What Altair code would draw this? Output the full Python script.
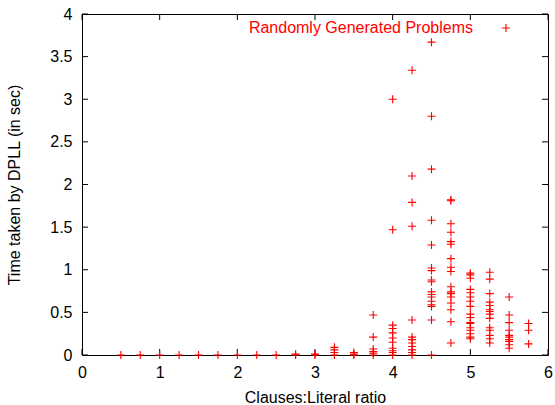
import altair as alt
import pandas as pd

# ---- data ----
ratios = [0.5, 0.75, 1.0, 1.25, 1.5, 1.75, 2.0, 2.25, 2.5, 2.75, 3.0,
          3.25, 3.5, 3.75, 4.0, 4.25, 4.5, 4.75, 5.0, 5.25, 5.5, 5.75]

times = [
    [0.0],                                   # 0.5
    [0.0],                                   # 0.75
    [0.0],                                   # 1.0
    [0.0],                                   # 1.25
    [0.0],                                   # 1.5
    [0.0],                                   # 1.75
    [0.0],                                   # 2.0
    [0.0],                                   # 2.25
    [0.0],                                   # 2.5
    [0.0, 0.01],                             # 2.75
    [0.0, 0.01],                             # 3.0
    [0.0, 0.03, 0.06, 0.09],                 # 3.25
    [0.0, 0.01, 0.03],                       # 3.5
    [0.0, 0.02, 0.04, 0.07, 0.21, 0.47],     # 3.75
    [0.0, 0.03, 0.05, 0.08, 0.15, 0.20, 0.26, 0.31, 0.35, 1.47, 3.0],   # 4.0
    [0.0, 0.03, 0.06, 0.10, 0.14, 0.18, 0.21, 0.41, 1.51, 1.79, 2.10, 3.34],  # 4.25
    [0.0, 0.41, 0.57, 0.59, 0.63, 0.68, 0.71, 0.74, 0.86, 0.88, 0.99, 1.02,
     1.29, 1.58, 2.18, 2.80, 3.67],          # 4.5
    [0.14, 0.39, 0.53, 0.61, 0.68, 0.72, 0.74, 0.80, 0.98, 1.03, 1.13, 1.30,
     1.33, 1.44, 1.54, 1.81, 1.82],          # 4.75
    [0.19, 0.21, 0.25, 0.29, 0.32, 0.37, 0.38, 0.44, 0.48, 0.57, 0.63, 0.68,
     0.73, 0.77, 0.90, 0.94, 0.96],          # 5.0
    [0.14, 0.19, 0.23, 0.29, 0.32, 0.43, 0.48, 0.51, 0.53, 0.58, 0.62, 0.72,
     0.89, 0.97],                            # 5.25
    [0.08, 0.12, 0.16, 0.18, 0.21, 0.23, 0.29, 0.38, 0.47, 0.68],  # 5.5
    [0.13, 0.29, 0.37],                      # 5.75
]

series_name = "Randomly Generated Problems"
x_ticks = [0, 1, 2, 3, 4, 5, 6]
y_ticks = [0, 0.5, 1, 1.5, 2, 2.5, 3, 3.5, 4]

x_title = "Clauses:Literal ratio"
y_title = "Time taken by DPLL (in sec)"

# ---- build tables ----
rows = []
for r, ts in zip(ratios, times):
    for t in ts:
        rows.append({"ratio": r, "time": t})
df = pd.DataFrame(rows)
xt = pd.DataFrame({"v": x_ticks})
yt = pd.DataFrame({"v": y_ticks})

W, H = 466, 341
FONT = "Liberation Sans"
RED = "#ff0000"
PLUS = "M-1,0L1,0M0,-1L0,1"
TK = 6
FS = 16

xscale = alt.Scale(domain=[0, 6], nice=False, zero=False)
yscale = alt.Scale(domain=[0, 4], nice=False, zero=False)

xaxis = alt.Axis(values=x_ticks, title=x_title, tickSize=0, domain=False, grid=False,
                 format="d", labelPadding=9, titlePadding=9, labelFontSize=FS, titleFontSize=FS,
                 labelFont=FONT, titleFont=FONT, labelColor="black", titleColor="black",
                 titleFontWeight="normal", labelFlush=False)
yaxis = alt.Axis(values=y_ticks, title=y_title, tickSize=0, domain=False, grid=False,
                 format="~g", labelPadding=10, titlePadding=27, labelFontSize=FS, titleFontSize=FS,
                 labelFont=FONT, titleFont=FONT, labelColor="black", titleColor="black",
                 titleFontWeight="normal", labelFlush=False)

points = alt.Chart(df).mark_point(
    shape=PLUS, size=64, filled=False, stroke=RED, strokeWidth=1.1, opacity=1
).encode(
    x=alt.X("ratio:Q", scale=xscale, axis=xaxis),
    y=alt.Y("time:Q", scale=yscale, axis=yaxis),
)

tick_style = dict(color="black", strokeWidth=1)
bottom_ticks = alt.Chart(xt).mark_rule(**tick_style).encode(
    x=alt.X("v:Q", scale=xscale), y=alt.value(H), y2=alt.value(H - TK))
top_ticks = alt.Chart(xt).mark_rule(**tick_style).encode(
    x=alt.X("v:Q", scale=xscale), y=alt.value(0), y2=alt.value(TK))
left_ticks = alt.Chart(yt).mark_rule(**tick_style).encode(
    y=alt.Y("v:Q", scale=yscale), x=alt.value(0), x2=alt.value(TK))
right_ticks = alt.Chart(yt).mark_rule(**tick_style).encode(
    y=alt.Y("v:Q", scale=yscale), x=alt.value(W), x2=alt.value(W - TK))

leg_df = pd.DataFrame({"name": [series_name]})
legend_text = alt.Chart(leg_df).mark_text(
    align="right", baseline="middle", font=FONT, fontSize=FS, color=RED
).encode(text="name:N", x=alt.value(391), y=alt.value(14))
legend_sym = alt.Chart(leg_df).mark_point(
    shape=PLUS, size=64, filled=False, stroke=RED, strokeWidth=1.1, opacity=1
).encode(x=alt.value(424), y=alt.value(14))

chart = alt.layer(
    bottom_ticks, top_ticks, left_ticks, right_ticks, points, legend_text, legend_sym
).properties(
    width=W, height=H,
    autosize=alt.AutoSizeParams(type="none"),
    padding={"left": 82, "top": 14, "right": 7, "bottom": 50},
    background="white",
).configure_view(
    stroke="black", strokeWidth=1
)

chart.save("out.html", embed_options={"renderer": "svg", "actions": False})
